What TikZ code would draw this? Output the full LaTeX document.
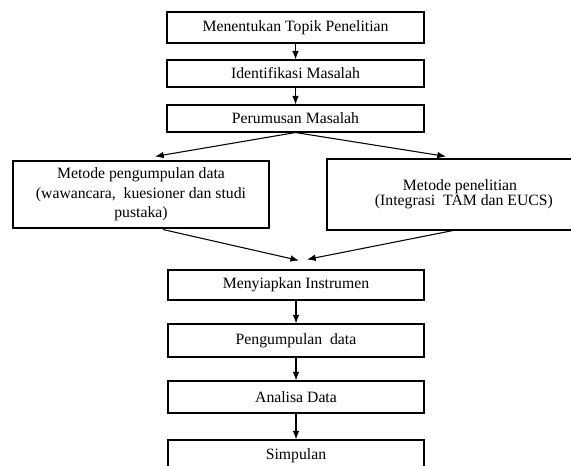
\documentclass[tikz,border=0pt]{standalone}
\usepackage{fontspec}
\setmainfont{Liberation Serif}
\usetikzlibrary{arrows.meta,calc}
\begin{document}
\begin{tikzpicture}[x=0.75pt,y=-0.75pt,
  box/.style={draw,line width=0.8pt,inner sep=0pt,align=center,font=\fontsize{11.8}{14}\selectfont},
  arr/.style={line width=0.8pt,-{Latex[length=6.5pt,width=5pt]}}]
\useasboundingbox (0,0) rectangle (571,466);
\clip (0,0) rectangle (571,466);
\fill[white] (0,0) rectangle (571,466);
\node[box,minimum width=192.75pt,minimum height=23.25pt] (b1) at (295.5,27.5) {Menentukan Topik Penelitian};
\node[box,minimum width=192.75pt,minimum height=20.25pt] (b2) at (295.5,73.5) {Identifikasi Masalah};
\node[box,minimum width=192.75pt,minimum height=20.25pt] (b3) at (295.5,118.5) {Perumusan Masalah};
\node[box,minimum width=192pt,minimum height=50.25pt,font=\fontsize{11.8}{14.5}\selectfont] (lb) at (141,194.5) {Metode pengumpulan data\\(wawancara,\ \ kuesioner dan studi\\pustaka)};
\node[box,minimum width=199.5pt,minimum height=53.25pt,font=\fontsize{11.8}{11.5}\selectfont] (rb) at (460,194.5) {Metode penelitian\\\ \ (Integrasi\ \ TAM dan EUCS)};
\node[box,minimum width=192pt,minimum height=22.5pt] (mi) at (296,285) {Menyiapkan Instrumen};
\node[box,minimum width=192pt,minimum height=24.75pt] (pd) at (296,340.5) {Pengumpulan\ \ data};
\node[box,minimum width=192pt,minimum height=24pt] (ad) at (296,397) {Analisa Data};
\node[box,minimum width=192pt,minimum height=24pt] (sp) at (296,456) {Simpulan};
\draw[arr] (b1.south) -- (b2.north);
\draw[arr] (b2.south) -- (b3.north);
\draw[arr] (b3.south) -- ($(lb.north)+(14,-4)$);
\draw[arr] (b3.south) -- ($(rb.north)+(-14,-2)$);
\draw[arr] ($(lb.south)+(22,1)$) -- ($(mi.north)+(3,-9)$);
\draw[arr] ($(rb.south)+(-7,0)$) -- ($(mi.north)+(11,-10)$);
\draw[arr] (mi.south) -- (pd.north);
\draw[arr] (pd.south) -- (ad.north);
\draw[arr] (ad.south) -- (sp.north);
\end{tikzpicture}
\end{document}
